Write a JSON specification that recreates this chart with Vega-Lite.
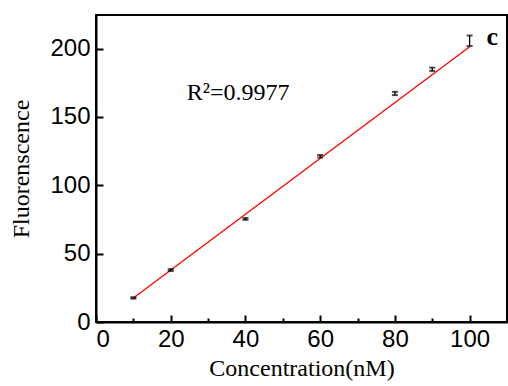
{
  "$schema": "https://vega.github.io/schema/vega-lite/v6.json",
  "width": 411,
  "height": 307,
  "autosize": "none",
  "padding": {"left": 96, "top": 15, "right": 1, "bottom": 64},
  "background": "white",
  "config": {
    "view": {"stroke": "#000", "strokeWidth": 2},
    "axis": {
      "domainColor": "#000", "domainWidth": 2,
      "tickColor": "#000", "tickWidth": 2,
      "grid": false,
      "labelFont": "Liberation Sans", "labelFontSize": 24, "labelColor": "#000",
      "titleFont": "Liberation Serif", "titleFontSize": 24, "titleFontWeight": "normal", "titleColor": "#000"
    }
  },
  "datasets": {
    "points": [
      {"conc": 10, "fl": 17.6, "lo": 17.1, "hi": 18.1},
      {"conc": 20, "fl": 38.0, "lo": 37.3, "hi": 38.7},
      {"conc": 40, "fl": 75.4, "lo": 74.7, "hi": 76.1},
      {"conc": 60, "fl": 121.2, "lo": 120.3, "hi": 122.1},
      {"conc": 80, "fl": 167.1, "lo": 165.9, "hi": 168.3},
      {"conc": 90, "fl": 184.8, "lo": 183.6, "hi": 186.0},
      {"conc": 100, "fl": 205.6, "lo": 201.8, "hi": 209.5}
    ],
    "fit": [
      {"conc": 10, "fl": 17.6},
      {"conc": 100, "fl": 201.3}
    ],
    "notes": [
      {"conc": 24.3, "fl": 162.5, "label": "R²=0.9977", "kind": "r2"},
      {"conc": 104.5, "fl": 202.5, "label": "c", "kind": "panel"}
    ]
  },
  "layer": [
    {
      "data": {"name": "fit"},
      "mark": {"type": "line", "color": "#ff0000", "strokeWidth": 1.3},
      "encoding": {
        "x": {"field": "conc", "type": "quantitative", "title": "Concentration(nM)",
              "scale": {"domain": [0, 110], "nice": false},
              "axis": {"values": [0,10,20,30,40,50,60,70,80,90,100],
                       "labelExpr": "datum.value % 20 === 0 ? datum.label : ''",
                       "tickSize": {"condition": {"test": "datum.value % 20 === 0", "value": -7}, "value": -4},
                       "labelPadding": 12, "titlePadding": 5}},
        "y": {"field": "fl", "type": "quantitative", "title": "Fluorenscence",
              "scale": {"domain": [0, 224.5], "nice": false},
              "axis": {"values": [0,25,50,75,100,125,150,175,200],
                       "labelExpr": "datum.value % 50 === 0 ? datum.label : ''",
                       "tickSize": {"condition": {"test": "datum.value % 50 === 0", "value": -7}, "value": -4},
                       "labelPadding": 13, "titlePadding": 16}}
      }
    },
    {
      "data": {"name": "points"},
      "mark": {"type": "errorbar", "color": "#000", "thickness": 1.3, "ticks": {"size": 6, "thickness": 2, "color": "#000"}},
      "encoding": {
        "x": {"field": "conc", "type": "quantitative", "title": "Concentration(nM)"},
        "y": {"field": "lo", "type": "quantitative", "title": "Fluorenscence"},
        "y2": {"field": "hi"}
      }
    },
    {
      "data": {"name": "notes"},
      "transform": [{"filter": "datum.kind === 'r2'"}],
      "mark": {"type": "text", "align": "left", "baseline": "alphabetic", "font": "Liberation Serif", "fontSize": 24, "color": "#000"},
      "encoding": {
        "x": {"field": "conc", "type": "quantitative", "title": "Concentration(nM)"},
        "y": {"field": "fl", "type": "quantitative", "title": "Fluorenscence"},
        "text": {"field": "label"}
      }
    },
    {
      "data": {"name": "notes"},
      "transform": [{"filter": "datum.kind === 'panel'"}],
      "mark": {"type": "text", "align": "left", "baseline": "alphabetic", "font": "Liberation Serif", "fontSize": 26, "fontWeight": "bold", "color": "#000"},
      "encoding": {
        "x": {"field": "conc", "type": "quantitative", "title": "Concentration(nM)"},
        "y": {"field": "fl", "type": "quantitative", "title": "Fluorenscence"},
        "text": {"field": "label"}
      }
    }
  ]
}
